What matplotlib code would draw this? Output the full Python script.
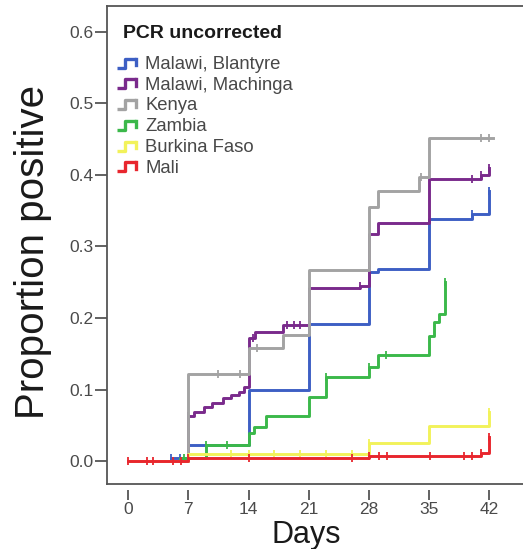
import numpy as np
import matplotlib
matplotlib.use("Agg")
import matplotlib.pyplot as plt
from matplotlib.lines import Line2D
from matplotlib.legend_handler import HandlerBase

plt.rcParams['font.family'] = ['Liberation Sans', 'DejaVu Sans']

# step curves: day of each step and the value after it
blan_days = [0, 5, 7, 14, 21, 28, 29, 35, 40, 42]
blan_vals = [0, 0.004, 0.022, 0.100, 0.192, 0.264, 0.268, 0.338, 0.345, 0.378]
blan_cens = [5, 6, 40, 42]

mach_days = [0, 7, 7.7, 8.8, 9.8, 11, 11.9, 12.9, 13.5, 14, 14.8, 18, 21, 27, 28, 29, 35, 41, 42]
mach_vals = [0, 0.063, 0.069, 0.076, 0.081, 0.088, 0.092, 0.097, 0.104, 0.172, 0.180,
             0.190, 0.242, 0.245, 0.318, 0.333, 0.394, 0.400, 0.410]
mach_cens = [7, 14.5, 18.5, 19.3, 20, 27, 40, 41, 42]

keny_days = [0, 7, 14, 18, 21, 28, 29, 33.8, 35, 42.4]
keny_vals = [0, 0.122, 0.158, 0.176, 0.267, 0.355, 0.378, 0.397, 0.452, 0.452]
keny_cens = [10.5, 13, 15, 34, 41, 42]

zamb_days = [0, 6, 9, 14, 14.6, 16, 21, 23, 28, 29, 35, 35.6, 36.2, 36.9]
zamb_vals = [0, 0.004, 0.022, 0.039, 0.048, 0.063, 0.089, 0.118, 0.131, 0.148, 0.175, 0.195, 0.205, 0.250]
zamb_cens = [6.5, 9, 11.5, 23, 28, 30, 36.9]

burk_days = [0, 7, 28, 35, 42]
burk_vals = [0, 0.010, 0.025, 0.049, 0.068]
burk_cens = [12, 14, 17, 20, 23, 26, 28, 42]

mali_days = [0, 7, 28, 41, 42]
mali_vals = [0, 0.004, 0.007, 0.012, 0.033]
mali_cens = [0, 2.2, 2.9, 5.2, 6.1, 7, 14, 26, 28, 29.2, 30.1, 35.1, 39.1, 40, 41, 42]

labels = ['Malawi, Blantyre', 'Malawi, Machinga', 'Kenya', 'Zambia', 'Burkina Faso', 'Mali']
colors = ['#3d5fc4', '#7a2a8c', '#a3a3a3', '#3bb84a', '#f2f25a', '#e8262e']
series = [(blan_days, blan_vals, blan_cens), (mach_days, mach_vals, mach_cens),
          (keny_days, keny_vals, keny_cens), (zamb_days, zamb_vals, zamb_cens),
          (burk_days, burk_vals, burk_cens), (mali_days, mali_vals, mali_cens)]

xticks = [0, 7, 14, 21, 28, 35, 42]
yticks = [0.0, 0.1, 0.2, 0.3, 0.4, 0.5, 0.6]


class StepHandler(HandlerBase):
    def create_artists(self, legend, orig_handle, xdescent, ydescent, width, height, fontsize, trans):
        c = orig_handle.get_color()
        xs = np.array([0, 0.4, 0.4, 1.0]) * width - xdescent
        ys = np.array([0.1, 0.1, 0.8, 0.8]) * height - ydescent
        step = Line2D(xs, ys, color=c, lw=2.4, transform=trans, solid_capstyle='butt')
        tick = Line2D([width - xdescent] * 2, [0.3 * height - ydescent, 0.8 * height - ydescent],
                      color=c, lw=2.4, transform=trans)
        return [step, tick]


fig = plt.figure(figsize=(5.23, 5.49), dpi=100)
ax = fig.add_axes([0.2046, 0.1184, 0.81, 0.8706])

handles = []
for (d, v, cens), col, lab in zip(series, colors, labels):
    ln, = ax.step(d, v, where='post', color=col, lw=2.1, label=lab)
    idx = np.searchsorted(d, cens, side='right') - 1
    ax.plot(cens, np.array(v)[idx], ls='none', marker='|', ms=5.5, mew=1.3, color=col)
    handles.append(ln)

ax.set_xlim(-2.46, 46.8)
ax.set_ylim(-0.032, 0.636)
ax.set_xticks(xticks)
ax.set_xticklabels([str(t) for t in xticks])
ax.set_yticks(yticks)
ax.set_yticklabels(['%.1f' % t for t in yticks])

spc = '#555555'
for s in ax.spines.values():
    s.set_color(spc)
    s.set_linewidth(1.3)
ax.spines['right'].set_visible(False)
ax.spines['bottom'].set_position(('outward', 4))
ax.spines['bottom'].set_visible(False)
ax.plot([0, 1], [0, 0], transform=ax.transAxes, color=spc, lw=1.3, clip_on=False)

ax.tick_params(axis='x', length=7, width=1.3, color=spc, labelsize=12.5, labelcolor='#4a4a4a', pad=2)
ax.tick_params(axis='y', length=8.5, width=1.3, color=spc, labelsize=12.5, labelcolor='#4a4a4a', pad=1)

ax.set_xlabel('Days', fontsize=22, color='#1a1a1a')
ax.xaxis.set_label_coords(0.47, -0.075)
ax.set_ylabel('Proportion positive', fontsize=29, color='#1a1a1a')
ax.yaxis.set_label_coords(-0.13, 0.485)

ax.text(0.038, 0.943, 'PCR uncorrected', transform=ax.transAxes, fontsize=14,
        fontweight='bold', color='#1a1a1a', va='center', ha='left')

leg = ax.legend(handles=handles, labels=labels, handler_map={Line2D: StepHandler()},
                loc='upper left', bbox_to_anchor=(0.016, 0.903), frameon=False,
                fontsize=13.3, handlelength=1.0, handletextpad=0.5, labelspacing=0.2,
                borderpad=0.2, borderaxespad=0)
for t in leg.get_texts():
    t.set_color('#484848')

fig.savefig('out.png', dpi=100)
